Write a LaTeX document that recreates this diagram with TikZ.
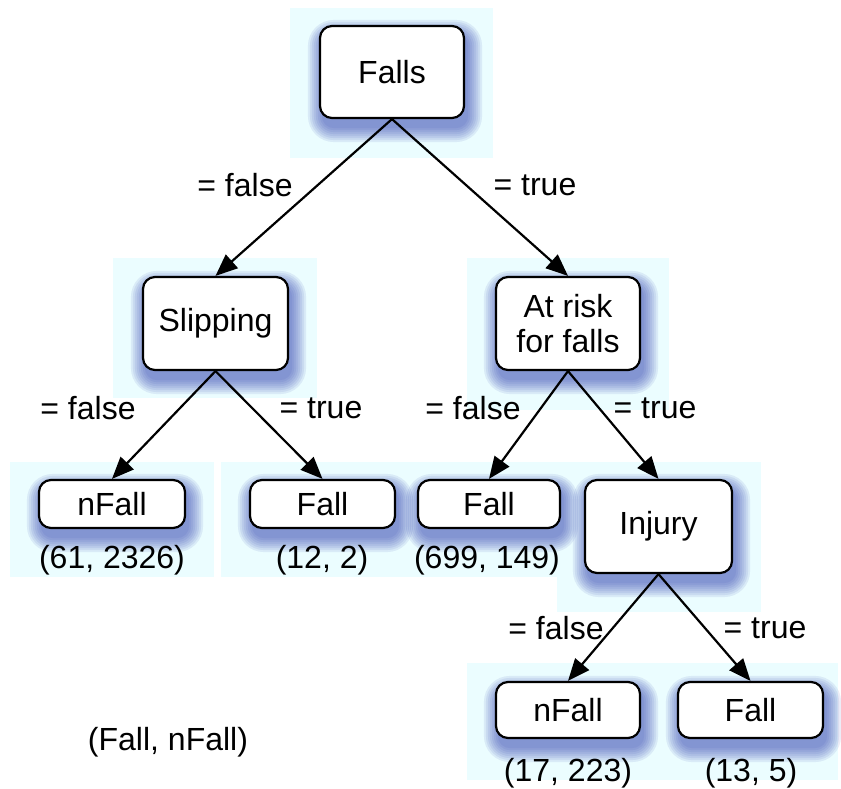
\documentclass[tikz,border=0pt]{standalone}
\usepackage{fontspec}
\setmainfont{Liberation Sans}
\usetikzlibrary{arrows.meta}
\definecolor{panel}{RGB}{235,253,255}
\definecolor{glow}{RGB}{45,60,175}
\pgfdeclarelayer{panels}
\pgfdeclarelayer{shades}
\pgfsetlayers{panels,shades,main}
\tikzset{
  treebox/.style={draw=black, line width=2.2pt, rounded corners=12pt, fill=white,
    align=center, inner sep=2pt},
  lbl/.style={inner sep=0pt, align=center},
  branch/.style={draw=black, line width=2.2pt, -{Triangle[length=22pt,width=18pt]}},
  txt/.style={font=\fontsize{32}{35}\selectfont}
}
% soft bluish glow under a box, built from stacked translucent rounded rectangles
\newcommand\glowbox[1]{%
  \begin{pgfonlayer}{shades}
    \foreach \s in {0,2,...,14}{
      \pgfmathsetmacro\rc{12+\s}
      \fill[glow, opacity=0.09, rounded corners=\rc pt]
        ([xshift=3pt-\s pt, yshift=-9pt-\s pt]#1.south west) rectangle
        ([xshift=3pt+\s pt, yshift=-9pt+\s pt]#1.north east);
    }
  \end{pgfonlayer}}
\begin{document}
\begin{tikzpicture}[x=1pt,y=-1pt,every node/.style={txt}]
\useasboundingbox (0,0) rectangle (841,789);

% light panels behind the nodes
\begin{pgfonlayer}{panels}
\fill[white] (0,0) rectangle (841,789);
\fill[panel] (290,8) rectangle (493,158);
\fill[panel] (113,258) rectangle (317,398);
\fill[panel] (467,258) rectangle (669,410);
\fill[panel] (10,462) rectangle (214,577);
\fill[panel] (221,462) rectangle (424,577);
\fill[panel] (389,462) rectangle (589,577);
\fill[panel] (557,462) rectangle (761,612);
\fill[panel] (467,663) rectangle (838,780);
\end{pgfonlayer}

% decision and leaf nodes
\node[treebox, minimum width=144pt, minimum height=92pt] (falls) at (392,72) {Falls};
\node[treebox, minimum width=145pt, minimum height=93pt] (slip) at (215.5,323.5) {Slipping};
\node[treebox, minimum width=144pt, minimum height=93pt] (risk) at (568,323.5) {At risk\\for falls};
\node[treebox, minimum width=146pt, minimum height=48pt] (nf1) at (112,504) {nFall};
\node[treebox, minimum width=145pt, minimum height=48pt] (f1) at (322.5,504) {Fall};
\node[treebox, minimum width=142pt, minimum height=48pt] (f2) at (489,504) {Fall};
\node[treebox, minimum width=147pt, minimum height=93pt] (inj) at (658.5,526.5) {Injury};
\node[treebox, minimum width=144pt, minimum height=56pt] (nf2) at (568,710) {nFall};
\node[treebox, minimum width=145pt, minimum height=56pt] (f3) at (750.5,710) {Fall};
\glowbox{falls}\glowbox{slip}\glowbox{risk}\glowbox{nf1}\glowbox{f1}
\glowbox{f2}\glowbox{inj}\glowbox{nf2}\glowbox{f3}

% counts below the leaves
\node[lbl] (c1) at (112,560) {(61, 2326)};
\node[lbl] (c2) at (322,560) {(12, 2)};
\node[lbl] (c3) at (487,560) {(699, 149)};
\node[lbl] (c4) at (568,773) {(17, 223)};
\node[lbl] (c5) at (751,773) {(13, 5)};
\node[lbl] (legend) at (168,742) {(Fall, nFall)};

% branches
\draw[branch] (falls.south) -- (slip.north);
\draw[branch] (falls.south) -- (risk.north);
\draw[branch] (slip.south) -- (nf1.north);
\draw[branch] (slip.south) -- (f1.north);
\draw[branch] (risk.south) -- (f2.north);
\draw[branch] (risk.south) -- (inj.north);
\draw[branch] (inj.south) -- (nf2.north);
\draw[branch] (inj.south) -- (f3.north);

% branch labels
\node[lbl] (e1) at (245,185) {= false};
\node[lbl] (e2) at (535,185) {= true};
\node[lbl] (e3) at (88,408) {= false};
\node[lbl] (e4) at (321,408) {= true};
\node[lbl] (e5) at (473,408) {= false};
\node[lbl] (e6) at (655,408) {= true};
\node[lbl] (e7) at (556,628) {= false};
\node[lbl] (e8) at (765,628) {= true};
\end{tikzpicture}
\end{document}
